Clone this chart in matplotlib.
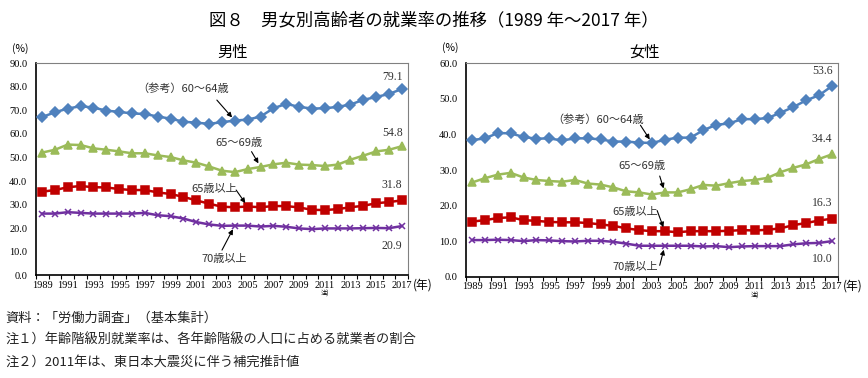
import matplotlib.pyplot as plt

plt.rcParams["font.family"] = ["Noto Sans CJK JP", "DejaVu Sans"]

years = list(range(1989, 2018))

male_6064 = [67.2, 69.2, 70.8, 71.8, 71.2, 69.9, 69.4, 68.7, 68.5, 67.4, 66.5, 65.2, 64.8, 64.3, 65.0,
             65.7, 66.1, 67.4, 70.9, 72.8, 71.5, 70.8, 70.9, 71.5, 72.5, 74.5, 75.7, 77.0, 79.1]
male_6569 = [52.1, 53.3, 55.5, 55.3, 53.9, 53.3, 52.6, 51.8, 51.8, 50.9, 50.2, 48.8, 47.8, 46.2, 44.4,
             43.8, 45.1, 46.0, 47.1, 47.8, 47.0, 46.8, 46.4, 47.0, 49.1, 50.8, 52.6, 53.3, 54.8]
male_65up = [35.5, 36.2, 37.4, 37.9, 37.4, 37.3, 36.6, 36.2, 36.2, 35.2, 34.5, 33.3, 31.8, 30.4, 29.1,
             28.9, 29.2, 28.9, 29.4, 29.4, 28.8, 27.8, 27.7, 28.1, 28.9, 29.5, 30.6, 31.1, 31.8]
male_70up = [26.2, 26.2, 26.8, 26.5, 26.2, 26.2, 26.2, 26.2, 26.5, 25.5, 25.1, 24.1, 22.6, 21.6, 21.0,
             21.1, 21.1, 20.7, 21.0, 20.6, 19.9, 19.6, 19.9, 19.9, 19.9, 20.0, 20.1, 20.0, 20.9]

female_6064 = [38.4, 38.9, 40.4, 40.3, 39.3, 38.8, 38.9, 38.3, 38.9, 38.9, 38.6, 38.0, 38.0, 37.7, 37.6,
               38.5, 39.1, 39.1, 41.2, 42.7, 43.1, 44.3, 44.3, 44.6, 46.1, 47.7, 49.6, 51.0, 53.6]
female_6569 = [26.5, 27.7, 28.7, 29.2, 27.9, 27.2, 26.9, 26.7, 27.2, 26.2, 25.9, 25.1, 24.0, 23.7, 23.1,
               23.7, 23.7, 24.6, 25.8, 25.6, 26.3, 26.9, 27.2, 27.8, 29.4, 30.6, 31.6, 33.1, 34.4]
female_65up = [15.5, 15.9, 16.5, 16.7, 15.9, 15.7, 15.4, 15.3, 15.3, 15.1, 14.7, 14.3, 13.6, 13.1, 12.8,
               12.8, 12.5, 12.8, 12.8, 12.8, 12.9, 13.1, 13.0, 13.2, 13.6, 14.5, 15.1, 15.8, 16.3]
female_70up = [10.3, 10.3, 10.4, 10.3, 10.0, 10.3, 10.2, 10.0, 9.9, 10.1, 10.1, 9.8, 9.3, 8.7, 8.7,
               8.7, 8.7, 8.7, 8.5, 8.6, 8.3, 8.5, 8.6, 8.6, 8.6, 9.1, 9.4, 9.5, 10.0]

series_labels = ["（参考）60～64歳", "65～69歳", "65歳以上", "70歳以上"]
colors = ["#4F81BD", "#9BBB59", "#C00000", "#7030A0"]
markers = ["D", "^", "s", "x"]
msizes = [5.0, 6.0, 6.0, 5.0]

title = "図８　男女別高齢者の就業率の推移（1989 年～2017 年）"
notes = [
    "資料：「労働力調査」（基本集計）",
    "注１）年齢階級別就業率は、各年齢階級の人口に占める就業者の割合",
    "注２）2011年は、東日本大震災に伴う補完推計値",
]

SERIF = ["Liberation Serif", "DejaVu Serif"]


def draw_panel(ax, data, ymax, label_pos, end_offsets):
    for vals, c, m, ms in zip(data, colors, markers, msizes):
        ax.plot(years, vals, color=c, lw=1.8, marker=m, ms=ms,
                mec=c, mfc=c, mew=1.1, zorder=3)

    ax.set_xlim(1988.5, 2017.5)
    ax.set_ylim(0, ymax)
    ax.set_yticks(range(0, ymax + 1, 10))
    ax.set_yticklabels([f"{v:.1f}" for v in range(0, ymax + 1, 10)], family=SERIF, fontsize=7.5)
    ax.tick_params(axis="y", length=0, pad=6)

    ax.set_xticks(years[::2])
    ax.set_xticklabels([str(y) for y in years[::2]], family=SERIF, fontsize=7.5)
    ax.set_xticks([y - 0.5 for y in years] + [2017.5], minor=True)
    ax.tick_params(axis="x", which="major", length=0, pad=4)
    ax.tick_params(axis="x", which="minor", length=3, width=0.8, direction="out")

    for s in ["left", "bottom"]:
        ax.spines[s].set_color("black")
        ax.spines[s].set_linewidth(1.2)
    for s in ["top", "right"]:
        ax.spines[s].set_color("#808080")
        ax.spines[s].set_linewidth(0.8)

    ax.text(-0.042, 1.072, "(%)", transform=ax.transAxes, ha="center", va="center", fontsize=7.5)
    ax.text(1.04, -0.046, "(年)", transform=ax.transAxes, ha="center", va="center", fontsize=8.5)
    ax.text(2011, -0.088, "注)", transform=ax.get_xaxis_transform(), ha="center", va="center", fontsize=4.5)

    # series labels with arrows
    for lbl, vals, (tx, ty, ax0, ay0, idx) in zip(series_labels, data, label_pos):
        ax.text(tx, ty, lbl, ha="center", va="center", fontsize=8, color="#333333")
        ax.annotate("", xy=(years[idx], vals[idx]), xytext=(ax0, ay0),
                    arrowprops=dict(arrowstyle="-|>", color="black", lw=0.8,
                                    mutation_scale=7, shrinkA=0, shrinkB=3))

    # end values
    for vals, dy in zip(data, end_offsets):
        ax.annotate(f"{vals[-1]:.1f}", xy=(years[-1], vals[-1]), xytext=(-7, dy),
                    textcoords="offset points", ha="center", va="center",
                    family=SERIF, fontsize=8.5, color="#333333")


fig = plt.figure(figsize=(8.68, 3.78), dpi=100)
ax_m = fig.add_axes([0.0411, 0.2717, 0.4293, 0.5608])
ax_f = fig.add_axes([0.5365, 0.2680, 0.4293, 0.5645])

draw_panel(ax_m, [male_6064, male_6569, male_65up, male_70up], 90,
           [(2000.0, 79.3, 2002.6, 74.4, 15),
            (2004.3, 56.2, 2005.3, 52.5, 17),
            (2002.4, 36.6, 2004.1, 36.2, 16),
            (2003.2, 6.9, 2003.0, 10.7, 15)],
           [8.5, 9.5, 11, -14])

draw_panel(ax_f, [female_6064, female_6569, female_65up, female_70up], 60,
           [(1998.8, 44.3, 2002.1, 42.6, 14),
            (2002.2, 31.1, 2003.6, 28.3, 15),
            (2001.7, 18.2, 2003.4, 18.6, 15),
            (2001.7, 2.7, 2003.6, 3.2, 15)],
           [11, 11, 11, -13])

fig.text(0.5, 0.947, title, ha="center", va="center", fontsize=12.5)
fig.text(0.268, 0.862, "男性", ha="center", va="center", fontsize=11)
fig.text(0.743, 0.862, "女性", ha="center", va="center", fontsize=11)
for i, note in enumerate(notes):
    fig.text(0.006, 0.159 - i * 0.058, note, ha="left", va="center", fontsize=9.5, color="#222222")

fig.savefig("out.png", dpi=100)
